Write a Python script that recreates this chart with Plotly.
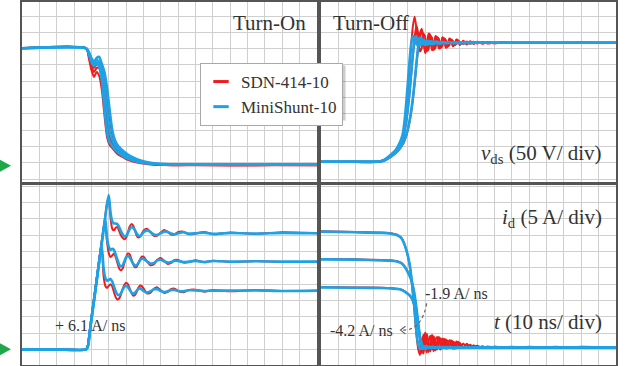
import plotly.graph_objects as go

# ---------------- data (time in ns, vds in V, id in A) ----------------
SERIES_NAMES = ["SDN-414-10", "MiniShunt-10"]

# Turn-on, drain-source voltage
T_ON_V = [0, 37, 38.5, 40, 41.5, 43, 44.5, 46, 47.5, 49, 50.5, 52, 53.5, 55, 57, 59, 61, 64, 67, 71, 76, 82, 90, 100, 120, 145, 170]
VDS_ON_RED_1 = [360, 360, 330.3, 293.5, 272.0, 287.4, 275.1, 232.2, 155.5, 88.0, 63.5, 54.3, 45.1, 35.9, 29.7, 23.6, 18.1, 12.9, 8.9, 5.8, 2.8, 2.1, 1.2, 2.1, 0.6, 2.1, 1.2]
VDS_ON_RED_2 = [360, 360, 336.4, 305.8, 287.4, 299.6, 299.6, 269.0, 213.8, 140.2, 88.0, 69.6, 57.4, 48.2, 39.0, 31.3, 26.7, 19.0, 12.9, 8.3, 3.7, 2.1, 2.1, 1.5, 2.1, 1.2, 2.1]
VDS_ON_RED_3 = [360, 360, 339.5, 315.0, 299.6, 311.9, 318.1, 296.6, 262.8, 207.6, 146.3, 97.1, 72.7, 58.9, 48.2, 39.0, 31.3, 22.1, 15.9, 9.8, 5.2, 2.1, 1.5, 2.1, 1.2, 2.1, 1.5]
VDS_ON_BLUE_1 = [360, 360, 342.6, 318.1, 305.8, 315.0, 302.7, 262.8, 177.0, 100.3, 72.7, 60.4, 49.7, 42.0, 34.3, 26.7, 22.1, 15.9, 11.3, 7.4, 5.2, 4.0, 3.7, 3.7, 3.7, 3.7, 3.7]
VDS_ON_BLUE_2 = [360, 360, 345.6, 324.2, 311.9, 324.2, 318.1, 293.5, 244.4, 170.8, 103.4, 78.8, 63.5, 52.8, 42.0, 34.3, 28.2, 20.5, 15.0, 9.8, 6.7, 4.6, 3.7, 3.7, 3.7, 3.7, 3.7]
VDS_ON_BLUE_3 = [360, 360, 348.7, 330.3, 318.1, 330.3, 333.4, 311.9, 287.4, 238.3, 170.8, 109.5, 78.8, 63.5, 51.2, 42.0, 34.3, 25.1, 18.1, 12.0, 7.7, 5.2, 4.0, 3.7, 3.7, 3.7, 3.7]

# Turn-off, drain-source voltage
T_OFF_V = [0, 20, 32, 36, 40, 43, 45,
           47, 48, 49, 50, 51, 52, 53, 54, 55, 56,
           57, 58, 59, 60, 61, 62, 63, 64, 65, 66,
           67, 68, 69, 70, 71, 72, 73, 74, 75, 76,
           77, 78, 79, 80, 82, 84, 86, 88, 90,
           93, 96, 100, 105, 110, 120, 135, 150, 170]
VDS_OFF_RED_1 = [12, 12, 12, 16, 31, 45, 62,
                 88, 120, 170, 232, 300, 370, 430, 457, 420, 350,
                 385, 420, 395, 345, 360, 405, 400, 355, 360, 398,
                 392, 360, 365, 394, 388, 362, 368, 390, 386, 366,
                 372, 387, 384, 370, 383, 372, 382, 373, 380,
                 375, 379, 375, 379, 376, 378, 376, 378, 377]
VDS_OFF_RED_2 = [12, 12, 12, 15, 29, 42, 56,
                 77, 101, 130, 170, 220, 280, 340, 395, 430, 405,
                 350, 360, 405, 395, 352, 358, 398, 392, 356, 362,
                 394, 388, 362, 367, 390, 385, 366, 370, 386, 383,
                 370, 373, 383, 380, 373, 381, 374, 380, 375,
                 379, 375, 378, 376, 378, 376, 378, 376, 377]
VDS_OFF_RED_3 = [12, 12, 12, 14, 26, 38, 49,
                 64, 75, 90, 108, 133, 165, 205, 255, 310, 365,
                 405, 418, 385, 348, 365, 400, 395, 355, 360, 395,
                 390, 360, 365, 392, 386, 363, 368, 388, 384, 368,
                 371, 385, 382, 372, 382, 373, 380, 376, 379,
                 375, 378, 376, 378, 376, 377, 376, 378, 377]
VDS_OFF_BLUE_1 = [12, 12, 12, 17, 33, 48, 66,
                  95, 130, 185, 250, 320, 375, 398, 388, 372, 373,
                  383, 381, 373, 374, 381, 380, 374, 376, 380, 378,
                  375, 376, 378, 377, 376, 377, 378, 377, 377, 377,
                  377, 376, 377, 377, 378, 377, 376, 377, 377,
                  377, 377, 377, 377, 377, 377, 377, 377, 377]
VDS_OFF_BLUE_2 = [12, 12, 12, 16, 30, 44, 58,
                  80, 105, 135, 175, 225, 285, 345, 385, 397, 386,
                  371, 372, 383, 382, 372, 374, 381, 380, 375, 376,
                  379, 378, 375, 376, 378, 377, 376, 377, 378, 377,
                  376, 377, 378, 377, 376, 377, 377, 378, 377,
                  377, 377, 377, 377, 377, 377, 377, 377, 377]
VDS_OFF_BLUE_3 = [12, 12, 12, 15, 27, 40, 51,
                  66, 78, 93, 112, 138, 170, 210, 260, 315, 362,
                  392, 392, 378, 370, 374, 382, 381, 373, 374, 380,
                  380, 375, 376, 379, 378, 376, 377, 378, 377, 376,
                  377, 378, 377, 376, 377, 378, 377, 377, 377,
                  377, 377, 377, 377, 377, 377, 377, 377, 377]

# Turn-on, drain current
T_ON_I = [0, 20, 37,
          38, 39, 40, 41, 42, 43, 44, 45, 46, 47,
          48, 49, 50, 51, 52, 53, 54, 55, 56, 57,
          58, 59, 60, 61, 62, 63, 64, 65, 66, 67,
          68, 69, 70, 72, 74, 76, 78, 80, 82, 84,
          86, 88, 90, 93, 96, 100, 105, 110, 120, 135, 150, 170]
ID_ON_RED_1 = [0, 0, 0,
               1.3, 5.5, 9.6, 13.5, 17.4, 21.4, 25.4, 29.3, 33.2, 37,
               41, 44.8, 46.5, 40.5, 37, 36.5, 37.3, 37.5, 36.3, 35,
               34.2, 33.8, 34.2, 35.8, 37.6, 38.4, 38, 36.6, 35, 34.3,
               34.5, 35.4, 36.4, 37, 36, 34.8, 34.9, 35.8, 36.6, 36,
               35.2, 35.3, 36, 36.1, 35.3, 35.5, 36, 35.3, 35.8, 35.4, 35.9, 35.6]
ID_ON_RED_2 = [0, 0, 0,
               1.3, 5.5, 9.6, 13.5, 17.4, 21.4, 25.4, 29.3, 33.2, 37,
               39, 33, 29.5, 28.3, 28.8, 29.3, 28.3, 26.5, 24.8, 24.2,
               24.8, 26.5, 28.3, 29.4, 29.2, 27.8, 26.2, 25.2, 25.3, 26.3,
               27.6, 28.4, 28.4, 27, 25.8, 26.1, 27.5, 28, 27.1, 26.2,
               26.5, 27.4, 27.4, 26.6, 26.7, 27.3, 26.7, 27.2, 26.8, 27.1, 26.8, 26.9]
ID_ON_RED_3 = [0, 0, 0,
               1.3, 5.5, 9.6, 13.5, 17.4, 21.4, 25.4, 29.3, 30.5, 22.5,
               19.5, 18.8, 19.5, 20, 19.3, 17.5, 16, 15.3, 15.6, 16.8,
               18.5, 19.8, 20.4, 20, 18.8, 17.4, 16.5, 16.6, 17.5, 18.8,
               19.6, 19.4, 18.7, 17.2, 17.3, 18.6, 19, 18.1, 17.3, 17.6,
               18.5, 18.6, 17.9, 17.5, 18.2, 18.3, 17.7, 18.2, 17.8, 18.2, 17.9, 18]
ID_ON_BLUE_1 = [0, 0, 0,
                1, 5, 9.2, 13.1, 17, 21, 25, 28.9, 32.8, 36.7,
                40.6, 44.5, 47.3, 42, 39.3, 38.6, 38.6, 38.4, 37.5, 36.3,
                35.2, 34.6, 34.8, 35.7, 36.8, 37.4, 37.3, 36.6, 35.6, 34.9,
                34.8, 35.2, 35.9, 36.5, 36, 35.2, 35.1, 35.6, 36.1, 36,
                35.5, 35.3, 35.6, 35.9, 35.5, 35.6, 35.8, 35.4, 35.7, 35.5, 35.7, 35.6]
ID_ON_BLUE_2 = [0, 0, 0,
                1, 5, 9.2, 13.1, 17, 21, 25, 28.9, 32.8, 36.7,
                40.2, 34, 31.5, 30.5, 30.8, 30.5, 29, 27.5, 26, 25.4,
                25.8, 27, 28.2, 28.6, 28.2, 27.3, 26.3, 25.7, 25.8, 26.4,
                27.3, 27.8, 27.7, 27, 26.3, 26.5, 27.3, 27.5, 27, 26.6,
                26.8, 27.2, 27.1, 26.8, 26.9, 27.1, 26.8, 27.1, 26.9, 27, 26.9, 26.9]
ID_ON_BLUE_3 = [0, 0, 0,
                1, 5, 9.2, 13.1, 17, 21, 25, 28.9, 31.5, 25,
                22, 21, 21.3, 21.6, 20.8, 19.3, 17.8, 16.8, 16.6, 17.2,
                18.3, 19.2, 19.5, 19.1, 18.3, 17.5, 17.1, 17.3, 17.9, 18.5,
                18.7, 18.4, 17.9, 17.4, 17.8, 18.4, 18.4, 17.9, 17.6, 17.8,
                18.2, 18.2, 17.9, 17.8, 18.1, 18.1, 17.9, 18, 18, 18.1, 17.9, 18]

# Turn-off, drain current
T_OFF_I = [0, 20, 35, 40, 42, 44, 46,
           47, 48, 49, 50, 51, 52, 53, 54, 55, 56,
           57, 58, 59, 60, 61, 62, 63, 64, 65, 66,
           67, 68, 69, 70, 71, 72, 73, 74, 75, 76,
           77, 78, 79, 80, 82, 84, 86, 88, 90,
           93, 96, 100, 110, 120, 135, 150, 170]
ID_OFF_RED_1 = [36.2, 36.0, 35.8, 35.6, 35.4, 35.1, 34.4,
                33.6, 32.4, 30.8, 28.8, 26.0, 22.0, 16.8, 10.8, 4.5, 0.2,
                -1.7, 1.5, 4.5, 1, -1, 2.5, 4.2, 0.8, -0.5, 3,
                3.8, 0.5, 0, 3.2, 3, 0.3, 0.5, 2.8, 2.4, 0.2,
                0.9, 2.4, 1.9, 0.3, 1.8, 0.4, 1.4, 0.5, 1.1,
                0.4, 0.9, 0.5, 0.8, 0.4, 0.8, 0.4, 0.6]
ID_OFF_RED_2 = [27.7, 27.6, 27.4, 27.3, 27.2, 27.0, 26.6,
                26.2, 25.6, 24.8, 23.8, 22.7, 21.4, 19.3, 16.3, 12.2, 7.5,
                3, -1.2, 1.5, 5.2, 2, -0.8, 2, 4.5, 1.5, -0.3,
                2.5, 3.8, 0.8, 0.3, 3, 3, 0.4, 0.8, 2.7, 2.2,
                0.2, 1.2, 2.3, 1.5, 0.4, 1.7, 0.5, 1.2, 0.5,
                0.9, 0.4, 0.8, 0.4, 0.8, 0.5, 0.7, 0.6]
ID_OFF_RED_3 = [19.1, 19.0, 18.9, 18.8, 18.7, 18.6, 18.4,
                18.2, 17.9, 17.5, 17.1, 16.7, 16.0, 14.9, 13.2, 10.8, 6.8,
                3.8, 1, -1.3, 2, 4.8, 1.8, -0.6, 1.8, 4, 1.3,
                0, 2.5, 3.4, 0.7, 0.4, 2.7, 2.6, 0.4, 0.9, 2.4,
                1.9, 0.3, 1.1, 2, 0.5, 1.6, 0.6, 1.1, 0.4,
                0.9, 0.5, 0.8, 0.5, 0.7, 0.4, 0.8, 0.6]
ID_OFF_BLUE_1 = [36.1, 35.9, 35.7, 35.5, 35.3, 35.0, 34.3,
                 33.5, 32.3, 30.7, 28.8, 26.3, 22.5, 17.5, 11.8, 5.5, 1.5,
                 0.3, 0.2, 0.6, 0.9, 0.7, 0.5, 0.6, 0.8, 0.7, 0.5,
                 0.6, 0.7, 0.6, 0.5, 0.6, 0.7, 0.6, 0.5, 0.6, 0.6,
                 0.6, 0.6, 0.6, 0.6, 0.6, 0.6, 0.6, 0.6, 0.6,
                 0.6, 0.6, 0.6, 0.6, 0.6, 0.6, 0.6, 0.6]
ID_OFF_BLUE_2 = [27.6, 27.5, 27.3, 27.2, 27.1, 26.9, 26.5,
                 26.1, 25.5, 24.7, 23.7, 22.6, 21.3, 19.3, 16.5, 12.6, 8.2,
                 3.8, 1.0, 0.2, 0.4, 0.8, 0.7, 0.5, 0.6, 0.7, 0.6,
                 0.5, 0.6, 0.7, 0.6, 0.5, 0.6, 0.6, 0.7, 0.6, 0.5,
                 0.6, 0.6, 0.6, 0.6, 0.6, 0.6, 0.6, 0.6, 0.6,
                 0.6, 0.6, 0.6, 0.6, 0.6, 0.6, 0.6, 0.6]
ID_OFF_BLUE_3 = [19.0, 18.9, 18.8, 18.7, 18.6, 18.5, 18.3,
                 18.1, 17.8, 17.4, 17.0, 16.6, 15.9, 14.8, 13.3, 11.2, 7.3,
                 4.0, 1.8, 0.6, 0.1, 0.4, 0.8, 0.7, 0.6, 0.5, 0.6,
                 0.7, 0.6, 0.5, 0.6, 0.7, 0.6, 0.5, 0.6, 0.6, 0.6,
                 0.6, 0.6, 0.6, 0.6, 0.6, 0.6, 0.6, 0.6, 0.6,
                 0.6, 0.6, 0.6, 0.6, 0.6, 0.6, 0.6, 0.6]

ZERO_LEVEL = 0

# ---------------- styling ----------------
RED = "#ee1c1c"
BLUE = "#1ea2e6"
GREEN = "#1fa84a"
GRID = "#cfcfcf"
FRAME = "#555555"
FONT = "Liberation Serif"
TXT = "#333333"
W, H = 626, 366

fig = go.Figure()

panels = [
    ("x", "y", T_ON_V, [VDS_ON_RED_1, VDS_ON_RED_2, VDS_ON_RED_3], [VDS_ON_BLUE_1, VDS_ON_BLUE_2, VDS_ON_BLUE_3]),
    ("x2", "y2", T_OFF_V, [VDS_OFF_RED_1, VDS_OFF_RED_2, VDS_OFF_RED_3], [VDS_OFF_BLUE_1, VDS_OFF_BLUE_2, VDS_OFF_BLUE_3]),
    ("x3", "y3", T_ON_I, [ID_ON_RED_1, ID_ON_RED_2, ID_ON_RED_3], [ID_ON_BLUE_1, ID_ON_BLUE_2, ID_ON_BLUE_3]),
    ("x4", "y4", T_OFF_I, [ID_OFF_RED_1, ID_OFF_RED_2, ID_OFF_RED_3], [ID_OFF_BLUE_1, ID_OFF_BLUE_2, ID_OFF_BLUE_3]),
]

for xa, ya, t, reds, blues in panels:
    for ys in reds:
        fig.add_trace(go.Scatter(x=t, y=ys, xaxis=xa, yaxis=ya, mode="lines",
                                 line=dict(color=RED, width=2, shape="spline", smoothing=0.6),
                                 showlegend=False, hoverinfo="skip"))
    for ys in blues:
        fig.add_trace(go.Scatter(x=t, y=ys, xaxis=xa, yaxis=ya, mode="lines",
                                 line=dict(color=BLUE, width=2.6, shape="spline", smoothing=0.6),
                                 showlegend=False, hoverinfo="skip"))

# legend entries
for name, col in zip(SERIES_NAMES, [RED, BLUE]):
    fig.add_trace(go.Scatter(x=[None], y=[None], mode="markers", name=name,
                             marker=dict(symbol="line-ew", size=11, line=dict(width=3, color=col))))


def px_x(p):
    return p / W


def px_y(p):
    return 1 - p / H


xd_left = [px_x(22), px_x(317)]
xd_right = [px_x(321), px_x(616)]
yd_top = [px_y(182), px_y(2)]
yd_bot = [px_y(365), px_y(185)]

common_x = dict(range=[0, 170], dtick=10, tick0=0, showgrid=True, gridcolor=GRID, gridwidth=1,
                showline=True, mirror=True, linecolor=FRAME, linewidth=2, showticklabels=False,
                ticks="", zeroline=False, fixedrange=True)
common_y = dict(showgrid=True, gridcolor=GRID, gridwidth=1, showline=True, mirror=True,
                linecolor=FRAME, linewidth=2, showticklabels=False, ticks="", zeroline=False,
                fixedrange=True)

fig.update_layout(
    width=W, height=H, margin=dict(l=0, r=0, t=0, b=0),
    paper_bgcolor="white", plot_bgcolor="white",
    xaxis=dict(domain=xd_left, anchor="y", **common_x),
    xaxis2=dict(domain=xd_right, anchor="y2", **common_x),
    xaxis3=dict(domain=xd_left, anchor="y3", **common_x),
    xaxis4=dict(domain=xd_right, anchor="y4", **common_x),
    yaxis=dict(domain=yd_top, anchor="x", range=[-50, 502], tick0=9, dtick=50, **common_y),
    yaxis2=dict(domain=yd_top, anchor="x2", range=[-50, 502], tick0=9, dtick=50, **common_y),
    yaxis3=dict(domain=yd_bot, anchor="x3", range=[-4.8, 50.4], tick0=0, dtick=5, **common_y),
    yaxis4=dict(domain=yd_bot, anchor="x4", range=[-4.8, 50.4], tick0=0, dtick=5, **common_y),
    showlegend=True,
    legend=dict(x=px_x(200), y=px_y(63), xanchor="left", yanchor="top",
                bgcolor="white", bordercolor="#a8a8a8", borderwidth=1,
                font=dict(family=FONT, size=17, color=TXT), itemwidth=30,
                tracegroupgap=0),
    font=dict(family=FONT, color=TXT),
)

# legend drop shadow (soft, two layers)
fig.add_shape(type="rect", xref="paper", yref="paper",
              x0=px_x(203), x1=px_x(346), y0=px_y(121), y1=px_y(66),
              fillcolor="rgba(0,0,0,0.10)", line=dict(width=0), layer="above")
fig.add_shape(type="rect", xref="paper", yref="paper",
              x0=px_x(202), x1=px_x(345), y0=px_y(120), y1=px_y(65),
              fillcolor="rgba(0,0,0,0.10)", line=dict(width=0), layer="above")

# zero-level markers (green triangles on the left edge)
for ya in ["y", "y3"]:
    fig.add_shape(type="path", xref="paper", yref=ya, xsizemode="pixel", ysizemode="pixel",
                  xanchor=px_x(0), yanchor=ZERO_LEVEL, path="M 0,-6 L 11,0 L 0,6 Z",
                  fillcolor=GREEN, line=dict(width=0), layer="above")

big = dict(family=FONT, size=21, color=TXT)
small = dict(family=FONT, size=16, color=TXT)
ann = [
    dict(text="Turn-On", x=px_x(308), y=px_y(23), xanchor="right", yanchor="middle", font=big),
    dict(text="Turn-Off", x=px_x(331), y=px_y(23), xanchor="left", yanchor="middle", font=big),
    dict(text="<i>v</i><sub>ds</sub> (50 V/ div)", x=px_x(604), y=px_y(154), xanchor="right", yanchor="middle", font=big),
    dict(text="<i>i</i><sub>d</sub> (5 A/ div)", x=px_x(604), y=px_y(218), xanchor="right", yanchor="middle", font=big),
    dict(text="<i>t</i> (10 ns/ div)", x=px_x(604), y=px_y(322), xanchor="right", yanchor="middle", font=big),
    dict(text="+ 6.1 A/ ns", x=px_x(53), y=px_y(325), xanchor="left", yanchor="middle", font=small),
    dict(text="-1.9 A/ ns", x=px_x(423), y=px_y(293), xanchor="left", yanchor="middle", font=small),
    dict(text="-4.2 A/ ns", x=px_x(395), y=px_y(330), xanchor="right", yanchor="middle", font=small),
]
for a in ann:
    fig.add_annotation(xref="paper", yref="paper", showarrow=False, **a)

# dotted curved pointer from "-1.9 A/ns" to "-4.2 A/ns" with open arrow head
fig.add_shape(type="path", xref="x4", yref="y4", path="M 60.9,14.1 Q 58,5.5 46.3,5.9",
              line=dict(color="#666666", width=1.2, dash="dot"))
fig.add_shape(type="path", xref="x4", yref="y4", path="M 48.7,7.1 L 45.8,5.9 L 48.7,4.7",
              line=dict(color="#666666", width=1.2))

fig.write_html("out.html")
